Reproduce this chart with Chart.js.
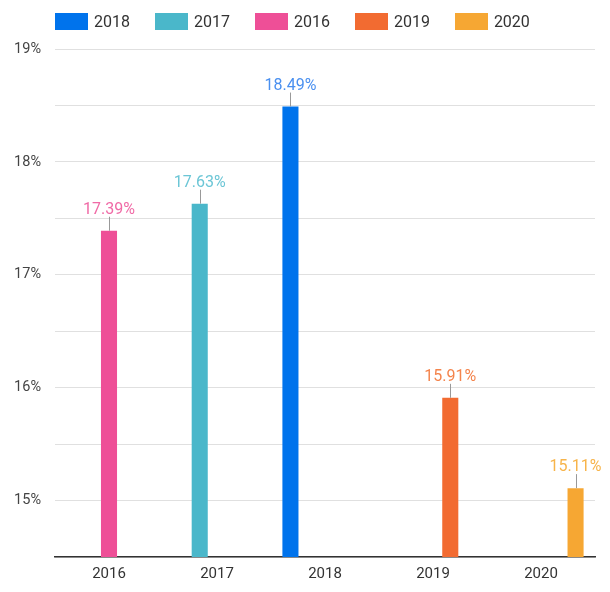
<!DOCTYPE html>
<html>
<head>
<meta charset="utf-8">
<script src="https://cdn.jsdelivr.net/npm/chart.js@4"></script>
<style>
  html, body { margin: 0; padding: 0; background: #fff; }
  #wrap { position: relative; width: 610px; height: 592px; }
  #legend {
    position: absolute; top: 12px; left: 55px;
    display: flex; font-family: Roboto, sans-serif; font-size: 16px; color: #333;
  }
  #legend .item { display: flex; align-items: center; margin-right: 25px; }
  #legend .box { width: 33px; height: 17px; margin-right: 6px; }
</style>
</head>
<body>
<div id="wrap">
  <canvas id="chart" width="610" height="592"></canvas>
  <div id="legend"></div>
</div>
<script>
// categories on the x axis
const years = ['2016', '2017', '2018', '2019', '2020'];

// series, in legend order, each only has a value in its own year
const seriesNames = ['2018', '2017', '2016', '2019', '2020'];
const seriesValues = [17.39, 17.63, 18.49, 15.91, 15.11]; // by year, 2016..2020
const seriesColors = ['#0073ec', '#4ab7ca', '#ee4f97', '#f26b31', '#f6a733'];
const labelColors = ['#4a90f0', '#6cc6d6', '#f06aa6', '#f4844c', '#f7b44a'];

// y axis
const yMin = 14.5;
const yMax = 19;
const yStep = 0.5;
const yTickLabels = ['15%', '16%', '17%', '18%', '19%'];

// build one dataset per series
const datasets = seriesNames.map((name, i) => ({
    label: name,
    data: years.map((y, j) => y === name ? seriesValues[j] : null),
    backgroundColor: seriesColors[i],
    barPercentage: 0.93,
    categoryPercentage: 0.8
}));

// html legend
const legendEl = document.getElementById('legend');
seriesNames.forEach((name, i) => {
    const item = document.createElement('div');
    item.className = 'item';
    const box = document.createElement('span');
    box.className = 'box';
    box.style.background = seriesColors[i];
    const txt = document.createElement('span');
    txt.textContent = name;
    item.appendChild(box);
    item.appendChild(txt);
    legendEl.appendChild(item);
});

// value labels with a little leader line above each bar
const valueLabels = {
    id: 'valueLabels',
    afterDatasetsDraw(chart) {
        const ctx = chart.ctx;
        chart.data.datasets.forEach((ds, i) => {
            const meta = chart.getDatasetMeta(i);
            meta.data.forEach((bar, j) => {
                const v = ds.data[j];
                if (v === null) return;
                ctx.save();
                ctx.strokeStyle = '#999';
                ctx.lineWidth = 1;
                ctx.beginPath();
                ctx.moveTo(Math.round(bar.x) + 0.5, bar.y);
                ctx.lineTo(Math.round(bar.x) + 0.5, bar.y - 14);
                ctx.stroke();
                ctx.fillStyle = labelColors[i];
                ctx.font = '16px Roboto';
                ctx.textAlign = 'center';
                ctx.textBaseline = 'alphabetic';
                ctx.fillText(v.toFixed(2) + '%', bar.x, bar.y - 17);
                ctx.restore();
            });
        });
    }
};

const ctx = document.getElementById('chart').getContext('2d');
const chart = new Chart(ctx, {
    type: 'bar',
    data: { labels: years, datasets: datasets },
    options: {
        responsive: false,
        animation: false,
        layout: { padding: { top: 49, right: 15, bottom: 1, left: 0 } },
        plugins: {
            legend: { display: false },
            tooltip: { enabled: false }
        },
        scales: {
            x: {
                grid: { display: false, drawTicks: false },
                border: { color: '#333', width: 1.5 },
                ticks: { color: '#333', font: { family: 'Roboto', size: 15 }, padding: 8 }
            },
            y: {
                min: yMin,
                max: yMax,
                afterFit(axis) { axis.width = 55; },
                border: { display: false },
                grid: { color: '#e0e0e0', drawTicks: false },
                ticks: {
                    stepSize: yStep,
                    padding: 14,
                    color: '#444',
                    font: { family: 'Roboto', size: 14.5 },
                    callback: v => yTickLabels.find(t => parseFloat(t) === v) || ''
                }
            }
        }
    },
    plugins: [valueLabels]
});
</script>
</body>
</html>
